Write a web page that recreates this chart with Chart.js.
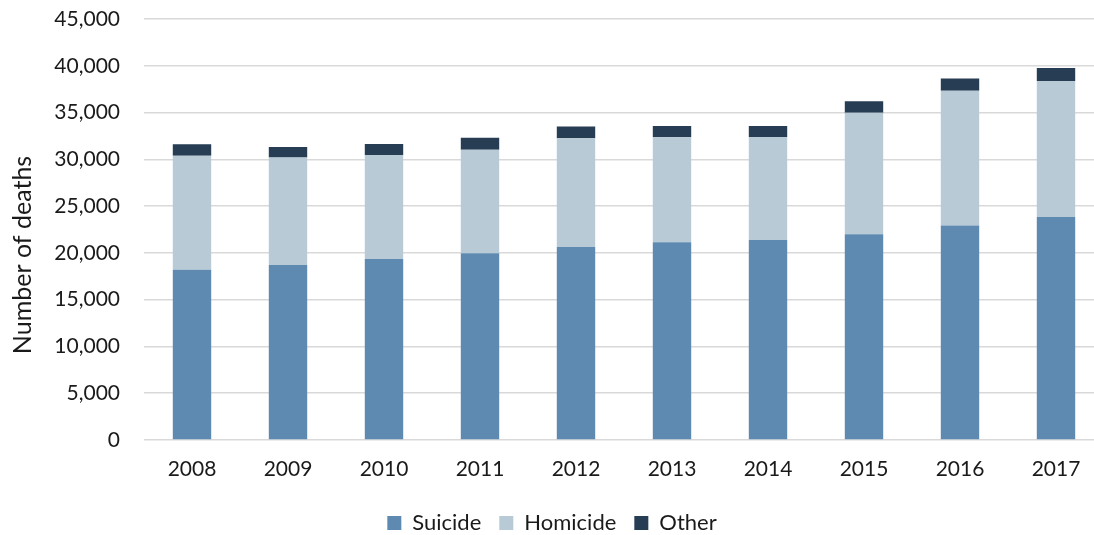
<!DOCTYPE html>
<html>
<head>
<meta charset="utf-8">
<script src="https://cdn.jsdelivr.net/npm/chart.js@4"></script>
<style>
  html, body { margin: 0; padding: 0; background: #fff; overflow: hidden; }
  #wrap { width: 1094px; height: 535px; overflow: hidden; }
  #box { width: 1122px; height: 535px; }
</style>
</head>
<body>
<div id="wrap"><div id="box"><canvas id="deathChart"></canvas></div></div>
<script>
// Data
const years = ["2008", "2009", "2010", "2011", "2012", "2013", "2014", "2015", "2016", "2017"];
const suicide = [18200, 18700, 19350, 19950, 20620, 21150, 21370, 22000, 22930, 23830];
const homicide = [12180, 11500, 11100, 11070, 11640, 11210, 11010, 12980, 14410, 14540];
const other = [1230, 1110, 1180, 1280, 1240, 1210, 1180, 1240, 1290, 1400];
const yTitle = "Number of deaths";

const fontFamily = "Lato, 'Open Sans', sans-serif";
const textColor = "#1a1a1a";

// y axis title, drawn a bit lower than the plot centre like the original
const yTitlePlugin = {
    id: "yTitle",
    afterDraw(chart) {
        const c = chart.ctx;
        c.save();
        c.translate(23, 255);
        c.rotate(-Math.PI / 2);
        c.font = "25px " + fontFamily;
        c.fillStyle = textColor;
        c.textAlign = "center";
        c.textBaseline = "middle";
        c.fillText(yTitle, 0, 0);
        c.restore();
    },
};

const ctx = document.getElementById("deathChart").getContext("2d");
new Chart(ctx, {
    type: "bar",
    data: {
        labels: years,
        datasets: [
            { label: "Suicide", data: suicide, backgroundColor: "#5e8ab2" },
            { label: "Homicide", data: homicide, backgroundColor: "#b8cad5" },
            { label: "Other", data: other, backgroundColor: "#263d53" },
        ],
    },
    plugins: [yTitlePlugin],
    options: {
        responsive: true,
        maintainAspectRatio: false,
        animation: false,
        layout: { padding: { left: 0, right: 18, top: 19, bottom: -9 } },
        datasets: { bar: { categoryPercentage: 1, barPercentage: 0.4 } },
        plugins: {
            tooltip: { enabled: false },
            legend: {
                position: "bottom",
                labels: {
                    font: { family: fontFamily, size: 22 },
                    color: textColor,
                    boxWidth: 14,
                    boxHeight: 14,
                    padding: 18,
                },
            },
        },
        scales: {
            x: {
                stacked: true,
                grid: { display: false },
                border: { display: false },
                ticks: { font: { family: fontFamily, size: 21 }, color: textColor, padding: 9 },
                afterFit: (scale) => { scale.height = 54; },
            },
            y: {
                stacked: true,
                min: 0,
                max: 45000,
                ticks: {
                    stepSize: 5000,
                    font: { family: fontFamily, size: 21 },
                    color: textColor,
                    padding: 2,
                    callback: (v) => v.toLocaleString("en-US"),
                },
                grid: { color: "#d9d9d9", lineWidth: 1.5, tickLength: 22, tickColor: "transparent" },
                border: { display: false },
                afterFit: (scale) => { scale.width = 144; },
            },
        },
    },
});
</script>
</body>
</html>
